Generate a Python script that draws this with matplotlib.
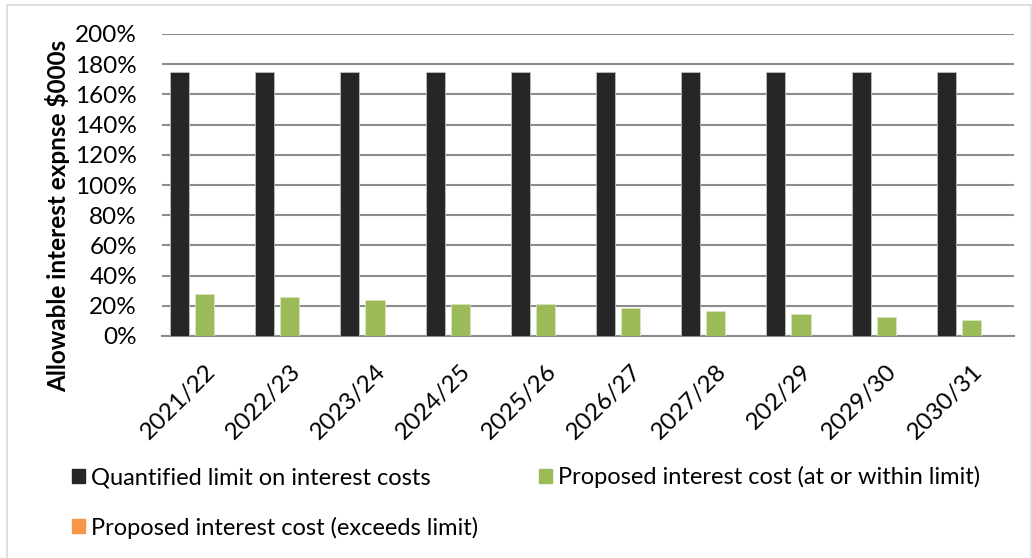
import matplotlib.pyplot as plt
import matplotlib.patches as mpatches
from matplotlib.ticker import PercentFormatter
import numpy as np

plt.rcParams['font.family'] = ['Lato', 'DejaVu Sans']

years = ['2021/22', '2022/23', '2023/24', '2024/25', '2025/26',
         '2026/27', '2027/28', '202/29', '2029/30', '2030/31']
limit = [1.75, 1.75, 1.75, 1.75, 1.75, 1.75, 1.75, 1.75, 1.75, 1.75]
within = [0.28, 0.255, 0.24, 0.215, 0.21, 0.185, 0.165, 0.145, 0.125, 0.108]
exceeds = [0, 0, 0, 0, 0, 0, 0, 0, 0, 0]

labels = ['Quantified limit on interest costs',
          'Proposed interest cost (at or within limit)',
          'Proposed interest cost (exceeds limit)']
colors = ['#262626', '#9BBB59', '#F79646']

fig = plt.figure(figsize=(10.32, 5.58), dpi=100)
ax = fig.add_axes([162 / 1032, 222 / 558, 852 / 1032, 302 / 558])

x = np.arange(len(years))
w = 0.224
off = 0.294
ax.bar(x - off, limit, w, color=colors[0], edgecolor='#bfbfbf', linewidth=0.6, zorder=3)
ax.bar(x, within, w, color=colors[1], edgecolor='#d7e4bd', linewidth=0.6, zorder=3)
ax.bar(x + off, exceeds, w, color=colors[2], zorder=3)

ax.set_xlim(-0.5, len(years) - 0.5)
ax.set_ylim(0, 2.0)
ax.set_yticks(np.arange(0, 2.01, 0.2))
ax.yaxis.set_major_formatter(PercentFormatter(1.0, decimals=0))
ax.grid(axis='y', color='#8C8C8C', linewidth=1.5, zorder=0)
for s in ['top', 'right', 'left']:
    ax.spines[s].set_visible(False)
ax.spines['bottom'].set_color('#8C8C8C')
ax.spines['bottom'].set_linewidth(1.5)
ax.tick_params(axis='both', length=0, labelsize=17.5, colors='black')
ax.tick_params(axis='y', pad=18)
ax.set_xticks(x)
ax.set_xticklabels(years, rotation=45, ha='right', rotation_mode='anchor')
ax.tick_params(axis='x', pad=18)

fig.text(58 / 1032, 1 - 216 / 558, 'Allowable interest expnse $000s', rotation=90,
         ha='center', va='center', fontsize=17.5, fontweight='bold')

# reorder so the legend fills row by row
handles = [mpatches.Patch(color=colors[0]), mpatches.Patch(color=colors[2]),
           mpatches.Patch(color=colors[1])]
leg_labels = [labels[0], labels[2], labels[1]]
fig.legend(handles, leg_labels, ncol=2, loc='upper left',
           bbox_to_anchor=(72 / 1032, 1 - 466 / 558), frameon=False, fontsize=17,
           handlelength=0.55, handleheight=0.55, handletextpad=0.25,
           columnspacing=2.6, labelspacing=1.2, borderpad=0, borderaxespad=0)

fig.patches.append(mpatches.Rectangle((7 / 1032, -0.01), 1024 / 1032, 1 - 5 / 558 + 0.01,
                                      transform=fig.transFigure, fill=False,
                                      edgecolor='#D9D9D9', linewidth=1.2))

fig.savefig('out.png', dpi=100)
